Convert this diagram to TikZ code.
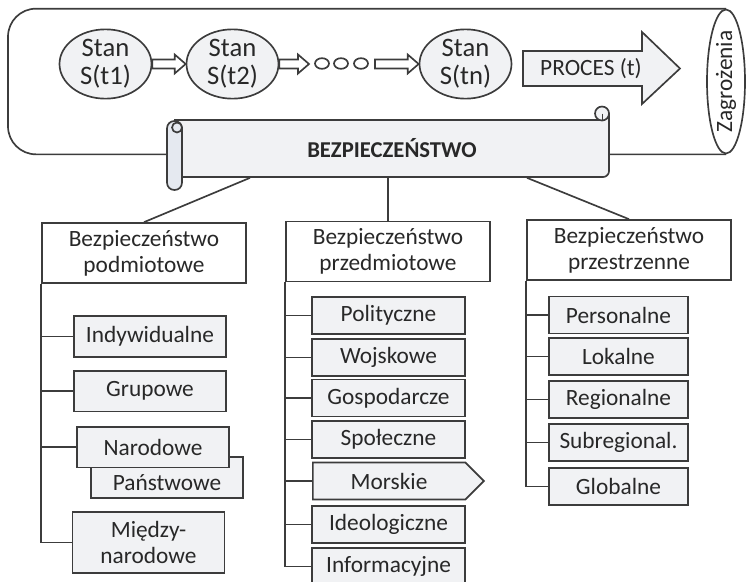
\documentclass[tikz,border=0pt]{standalone}
\usepackage{fontspec}
\setmainfont{Carlito}
\usetikzlibrary{calc,shapes.geometric,shapes.symbols}

\definecolor{linegray}{RGB}{60,60,60}
\definecolor{boxgray}{RGB}{241,242,244}
\definecolor{rollgray}{RGB}{229,233,240}
\definecolor{textgray}{RGB}{40,40,40}

\tikzset{every picture/.style={line width=1.25pt}}
\tikzset{
  lbl/.style={font=\fontsize{17.5}{19.5}\selectfont, text=textgray, align=center, inner sep=0pt},
  stan/.style={lbl, ellipse, draw=linegray, fill=boxgray, minimum width=69pt, minimum height=51pt, font=\fontsize{20}{21}\selectfont},
  dot/.style={ellipse, draw=linegray, fill=white, minimum width=10.5pt, minimum height=8pt, inner sep=0pt},
  head/.style={lbl, rectangle, draw=linegray, fill=white, minimum width=153pt, minimum height=45pt},
  kid/.style={lbl, rectangle, draw=linegray, fill=boxgray, minimum height=27.75pt},
  kidL/.style={kid, minimum width=114pt, minimum height=30.5pt},
  kidM/.style={kid, minimum width=114.75pt},
  kidR/.style={kid, minimum width=104.25pt},
  link/.style={draw=linegray}
}

% hollow block arrow between two points
\newcommand{\hollowarrow}[2]{%
  \draw[linegray, fill=white] ($(#1)+(0,-4.5)$) -- ($(#2)+(-11,-4.5)$) -- ($(#2)+(-11,-9.5)$) -- (#2) -- ($(#2)+(-11,9.5)$) -- ($(#2)+(-11,4.5)$) -- ($(#1)+(0,4.5)$) -- cycle ;}

\begin{document}
\begin{tikzpicture}[x=0.75pt,y=0.75pt,yscale=-1,xscale=1]
\useasboundingbox (0,0) rectangle (750,582);

%Shape: Cylinder end
\node[lbl, ellipse, draw=linegray, fill=white, rotate=90, minimum width=105.75pt, minimum height=28.5pt] (zagr) at (726,81.5) {Zagrożenia};
%Shape: Cylinder body
\draw[linegray, rounded corners=21pt] (zagr.east) -| (8,81.5) |- (zagr.west) ;

%Shape: Ellipse
\node[stan] (s1) at (105.5,64) {Stan\\S(t1)};
%Shape: Ellipse
\node[stan] (s2) at (232.5,64) {Stan\\S(t2)};
%Shape: Ellipse
\node[stan] (sn) at (465.5,64) {Stan\\S(tn)};
%Shape: Small circles
\node[dot] (d1) at (322,63.5) {};
\node[dot] (d2) at (341,63.5) {};
\node[dot] (d3) at (361,63.5) {};
\coordinate (dotsin) at (309,64);
\coordinate (dotsout) at (375,64);

%Hollow arrows
\hollowarrow{s1.east}{s2.west}
\hollowarrow{s2.east}{dotsin}
\hollowarrow{dotsout}{sn.west}

%Shape: Right Arrow
\draw[linegray, fill=boxgray] (523,51) -- (642,51) -- (642,32) -- (680,68.5) -- (642,104) -- (642,86) -- (523,86) -- cycle ;
% Text Node
\node[lbl] (proc) at (591,68.5) {PROCES (t)};

%Shape: Scroll body
\draw[linegray, fill=boxgray] (175,120) -- (602,120) -- (602,113.5) -- (609,113.5) -- (609,171) arc[start angle=0, end angle=90, radius=6] -- (175,177) -- cycle ;
\draw[linegray, fill=boxgray] (602,113.5) circle (7) ;
\draw[linegray, line width=0.7pt] (602,113.5) -- (602,120) (597,120) -- (602,120) ;
%Shape: Scroll roll
\draw[linegray, fill=rollgray, rounded corners=5.5pt] (167,121) rectangle (182,190) ;
\draw[linegray, fill=rollgray] (177,127.5) circle (5) ;
\draw[linegray, line width=0.7pt] (182,127.5) -- (182,177) ;
% Text Node
\node[lbl, font=\fontsize{17}{19.5}\selectfont\bfseries, minimum width=325.5pt, minimum height=42.75pt] (bezp) at (392,148.5) {BEZPIECZEŃSTWO};

%Headers
\node[head] (podm) at (144,253) {Bezpieczeństwo\\podmiotowe};
\node[head] (przedm) at (388,251.5) {Bezpieczeństwo\\przedmiotowe};
\node[head] (przestrz) at (629,250) {Bezpieczeństwo\\przestrzenne};

%Straight Lines
\draw[link] ($(bezp.south)+(-142,0)$) -- (podm.north) ;
\draw[link] (bezp.south -| przedm.north) -- (przedm.north) ;
\draw[link] ($(bezp.south)+(135,0)$) -- (przestrz.north) ;

%Left column
\node[kidL] (indyw) at (150,336.5) {Indywidualne};
\node[kidL] (grup) at (150,391) {Grupowe};
\node[kidL] (panst) at (167,477.5) {};
\node[lbl] (panstxt) at (167,482.5) {Państwowe};
\node[kidL] (narod) at (153,447) {Narodowe};
\node[kidL, minimum height=45.75pt] (miedzy) at (148.5,542.5) {Między-\\narodowe};
\draw[link] (podm.south west) |- (indyw.west) ;
\draw[link] (podm.south west) |- (grup.west) ;
\draw[link] (podm.south west) |- (narod.west) ;
\draw[link] (podm.south west) |- (miedzy.west) ;

%Middle column
\node[kidM] (polit) at (388.5,315.5) {Polityczne};
\node[kidM] (wojsk) at (388.5,357.5) {Wojskowe};
\node[kidM] (gosp) at (388.5,398) {Gospodarcze};
\node[kidM] (spol) at (388.5,439.5) {Społeczne};
\node[kid, signal, signal to=east, minimum width=128.25pt, anchor=west] (morsk) at (312,481) {Morskie};
\node[kidM] (ideo) at (388.5,524.5) {Ideologiczne};
\node[kidM] (info) at (388.5,566.5) {Informacyjne};
\draw[link] (przedm.south west) |- (polit.west) ;
\draw[link] (przedm.south west) |- (wojsk.west) ;
\draw[link] (przedm.south west) |- (gosp.west) ;
\draw[link] (przedm.south west) |- (spol.west) ;
\draw[link] (przedm.south west) |- (morsk.west) ;
\draw[link] (przedm.south west) |- (ideo.west) ;
\draw[link] (przedm.south west) |- (info.west) ;

%Right column
\node[kidR] (pers) at (618.5,315) {Personalne};
\node[kidR] (lok) at (618.5,356.5) {Lokalne};
\node[kidR] (reg) at (618.5,399.5) {Regionalne};
\node[kidR] (subreg) at (618.5,442.5) {Subregional.};
\node[kidR] (glob) at (618.5,486.5) {Globalne};
\draw[link] (przestrz.south west) |- (pers.west) ;
\draw[link] (przestrz.south west) |- (lok.west) ;
\draw[link] (przestrz.south west) |- (reg.west) ;
\draw[link] (przestrz.south west) |- (subreg.west) ;
\draw[link] (przestrz.south west) |- (glob.west) ;

\end{tikzpicture}
\end{document}
